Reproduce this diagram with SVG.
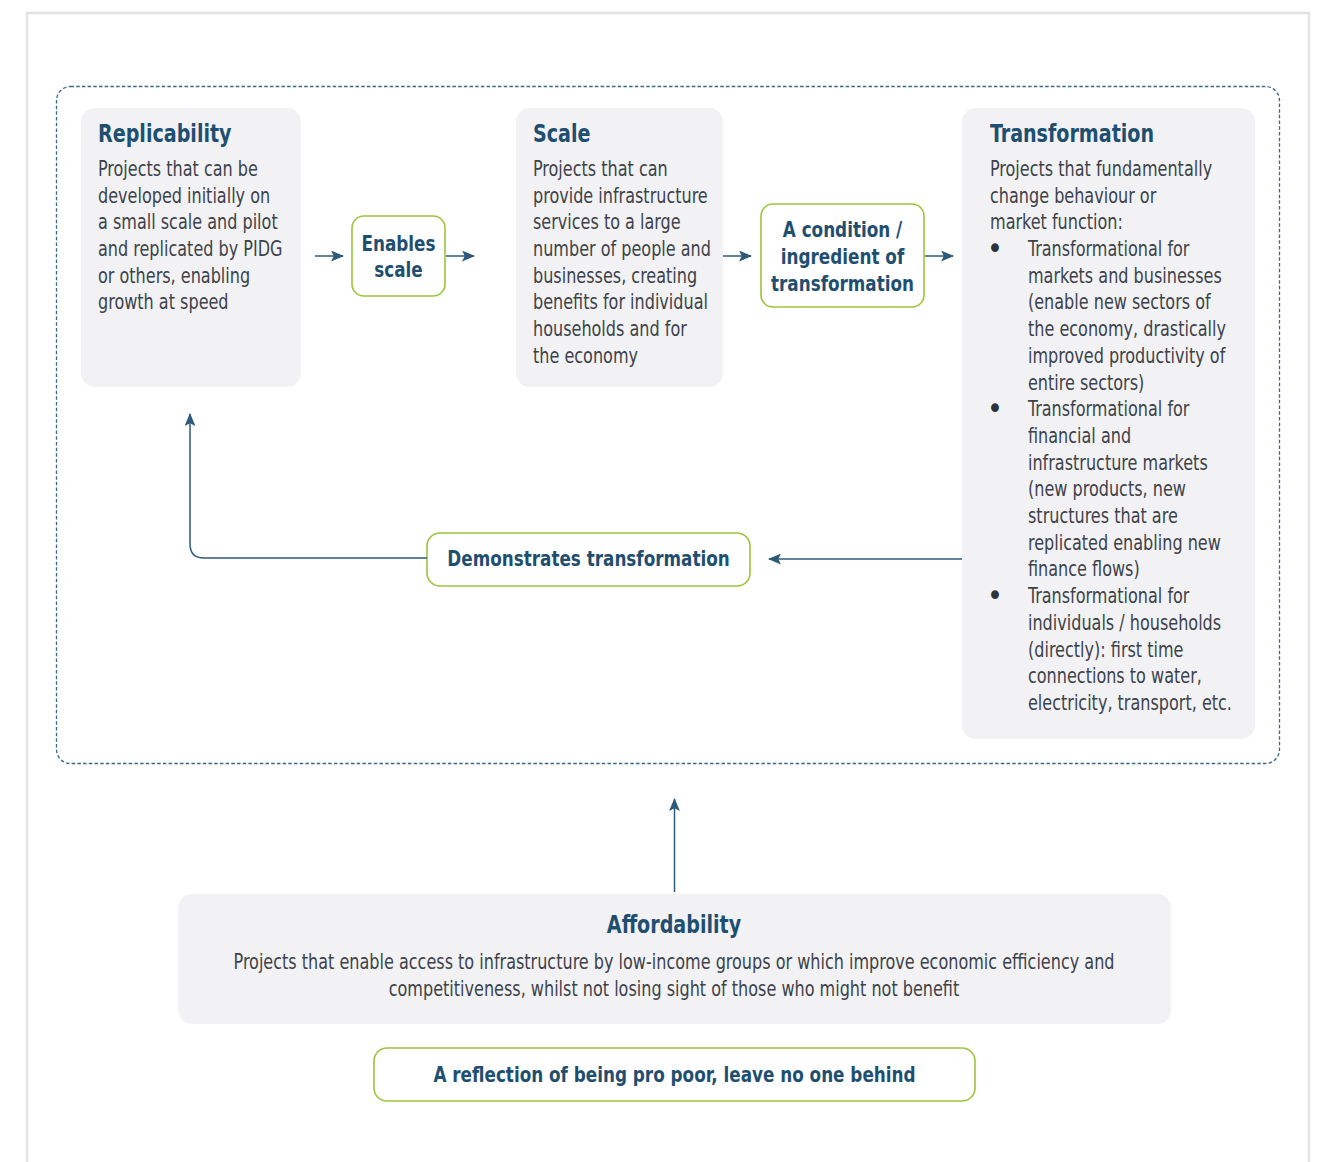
<svg xmlns="http://www.w3.org/2000/svg" width="1322" height="1162" viewBox="0 0 1322 1162">
<style>
.frame{fill:#ffffff;stroke:#e3e3e3;stroke-width:2.5}
.group{fill:none;stroke:#3a6787;stroke-width:1.3;stroke-dasharray:3.5 2.2}
.card{fill:#f2f2f4;stroke:none}
.tag{fill:#ffffff;stroke:#9bc53d;stroke-width:1.6}
text{font-family:"DejaVu Sans Condensed","DejaVu Sans","Liberation Sans",sans-serif}
.title{font-weight:bold;font-size:25px;fill:#1f4f70}
.body{font-size:21px;fill:#3d424a}
.bullet{font-size:30px;fill:#2f343b;text-anchor:middle}
.lbl{font-weight:bold;font-size:22px;fill:#1f4f70;text-anchor:middle}
.mid{text-anchor:middle}
.conn{fill:none;stroke:#2e5a7a;stroke-width:1.5}
</style>
<defs>
<marker id="ah" viewBox="0 0 12 10" refX="11" refY="5" markerWidth="13" markerHeight="11" markerUnits="userSpaceOnUse" orient="auto">
<path d="M0,0 L12,5 L0,10 L2.5,5 Z" fill="#2e5a7a"/>
</marker>
</defs>
<rect class="frame" x="27" y="13" width="1282" height="1160"/>
<rect class="group" x="56.5" y="86.5" width="1223" height="677" rx="14"/>

<g id="replicability">
<rect class="card" x="81" y="108" width="220" height="279" rx="14"/>
<g transform="translate(98 0) scale(0.85 1)">
<text class="title" x="0" y="142">Replicability</text>
<text class="body" x="0" y="176">Projects that can be</text>
<text class="body" x="0" y="202.7">developed initially on</text>
<text class="body" x="0" y="229.4">a small scale and pilot</text>
<text class="body" x="0" y="256.1">and replicated by PIDG</text>
<text class="body" x="0" y="282.8">or others, enabling</text>
<text class="body" x="0" y="309.5">growth at speed</text>
</g>
</g>

<g id="enables-scale">
<rect class="tag" x="352" y="216" width="93" height="80" rx="12"/>
<g transform="translate(398.5 0) scale(0.85 1)">
<text class="lbl" x="0" y="251">Enables</text>
<text class="lbl" x="0" y="277">scale</text>
</g>
</g>

<g id="scale">
<rect class="card" x="516" y="108" width="207" height="279" rx="14"/>
<g transform="translate(533 0) scale(0.85 1)">
<text class="title" x="0" y="142">Scale</text>
<text class="body" x="0" y="176">Projects that can</text>
<text class="body" x="0" y="202.7">provide infrastructure</text>
<text class="body" x="0" y="229.4">services to a large</text>
<text class="body" x="0" y="256.1">number of people and</text>
<text class="body" x="0" y="282.8">businesses, creating</text>
<text class="body" x="0" y="309.5">benefits for individual</text>
<text class="body" x="0" y="336.2">households and for</text>
<text class="body" x="0" y="362.9">the economy</text>
</g>
</g>

<g id="condition">
<rect class="tag" x="761" y="204" width="163" height="103" rx="12"/>
<g transform="translate(842.5 0) scale(0.85 1)">
<text class="lbl" x="0" y="237">A condition /</text>
<text class="lbl" x="0" y="264">ingredient of</text>
<text class="lbl" x="0" y="291">transformation</text>
</g>
</g>

<g id="transformation">
<rect class="card" x="962" y="108" width="293" height="631" rx="14"/>
<text class="bullet" x="995" y="259">•</text>
<text class="bullet" x="995" y="419">•</text>
<text class="bullet" x="995" y="606">•</text>
<g transform="translate(990 0) scale(0.85 1)">
<text class="title" x="0" y="142">Transformation</text>
<text class="body" x="0" y="176">Projects that fundamentally</text>
<text class="body" x="0" y="202.7">change behaviour or</text>
<text class="body" x="0" y="229.4">market function:</text>
<text class="body" x="44.7" y="256.1">Transformational for</text>
<text class="body" x="44.7" y="282.8">markets and businesses</text>
<text class="body" x="44.7" y="309.5">(enable new sectors of</text>
<text class="body" x="44.7" y="336.2">the economy, drastically</text>
<text class="body" x="44.7" y="362.9">improved productivity of</text>
<text class="body" x="44.7" y="389.6">entire sectors)</text>
<text class="body" x="44.7" y="416.3">Transformational for</text>
<text class="body" x="44.7" y="443">financial and</text>
<text class="body" x="44.7" y="469.7">infrastructure markets</text>
<text class="body" x="44.7" y="496.4">(new products, new</text>
<text class="body" x="44.7" y="523.1">structures that are</text>
<text class="body" x="44.7" y="549.8">replicated enabling new</text>
<text class="body" x="44.7" y="576.5">finance flows)</text>
<text class="body" x="44.7" y="603.2">Transformational for</text>
<text class="body" x="44.7" y="629.9">individuals / households</text>
<text class="body" x="44.7" y="656.6">(directly): first time</text>
<text class="body" x="44.7" y="683.3">connections to water,</text>
<text class="body" x="44.7" y="710">electricity, transport, etc.</text>
</g>
</g>

<g id="demonstrates">
<rect class="tag" x="427" y="533" width="323" height="53" rx="13"/>
<g transform="translate(588.5 0) scale(0.85 1)">
<text class="lbl" x="0" y="566">Demonstrates transformation</text>
</g>
</g>

<g id="affordability">
<rect class="card" x="178" y="894" width="993" height="130" rx="14"/>
<g transform="translate(674 0) scale(0.85 1)">
<text class="title mid" x="0" y="933">Affordability</text>
<text class="body mid" x="0" y="969">Projects that enable access to infrastructure by low-income groups or which improve economic efficiency and</text>
<text class="body mid" x="0" y="995.7">competitiveness, whilst not losing sight of those who might not benefit</text>
</g>
</g>

<g id="reflection">
<rect class="tag" x="374" y="1048" width="601" height="53" rx="13"/>
<g transform="translate(674.5 0) scale(0.85 1)">
<text class="lbl" x="0" y="1082">A reflection of being pro poor, leave no one behind</text>
</g>
</g>

<g id="connectors">
<path class="conn" d="M315,256 H343" marker-end="url(#ah)"/>
<path class="conn" d="M446,256 H474" marker-end="url(#ah)"/>
<path class="conn" d="M723,256 H751" marker-end="url(#ah)"/>
<path class="conn" d="M925,256 H953" marker-end="url(#ah)"/>
<path class="conn" d="M962,559 H769" marker-end="url(#ah)"/>
<path class="conn" d="M427,558 H204 Q190,558 190,544 V414" marker-end="url(#ah)"/>
<path class="conn" d="M674.5,892 V799" marker-end="url(#ah)"/>
</g>
</svg>
